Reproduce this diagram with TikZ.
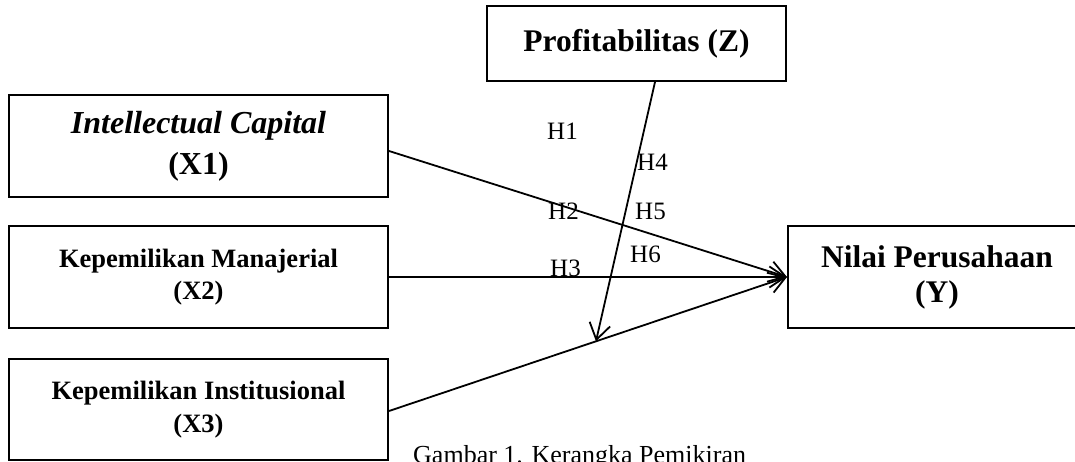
\documentclass[tikz,border=0pt]{standalone}
\usepackage{fontspec}
\setmainfont{Liberation Serif}
\usetikzlibrary{arrows.meta,calc}
\begin{document}
\begin{tikzpicture}[x=1pt,y=-1pt,
  box/.style={draw, line width=2pt, inner sep=0pt, align=center, font=\bfseries},
  link/.style={line width=1.8pt, -{Straight Barb[length=16pt,width=21pt]}},
  hlab/.style={font=\fontsize{25}{25}\selectfont, anchor=base west, inner sep=0pt}]
\useasboundingbox (0,0) rectangle (1075,462);
\node[box, minimum width=379pt, minimum height=102pt, font=\fontsize{32}{41}\selectfont\bfseries] (x1) at (198.5,146) {\textit{Intellectual Capital}\\(X1)};
\node[box, minimum width=379pt, minimum height=102pt, font=\fontsize{26.5}{32.5}\selectfont\bfseries] (x2) at (198.5,277) {Kepemilikan Manajerial\\(X2)};
\node[box, minimum width=379pt, minimum height=101pt, font=\fontsize{26.5}{32.5}\selectfont\bfseries] (x3) at (198.5,409.5) {Kepemilikan Institusional\\(X3)};
\node[box, minimum width=299pt, minimum height=75pt, font=\fontsize{31.5}{36}\selectfont\bfseries] (z) at (636.5,43.5) {Profitabilitas (Z)};
\node[box, minimum width=298pt, minimum height=102pt, font=\fontsize{31.5}{35}\selectfont\bfseries] (y) at (937,277) {Nilai Perusahaan\\(Y)};
\draw[link] ([yshift=-5pt]x1.east) -- (y.west);
\draw[link] (x2.east) -- (y.west);
\draw[link] ([yshift=-1.5pt]x3.east) -- (y.west);
\coordinate (m) at ($([yshift=-1.5pt]x3.east)!0.52!(y.west)$);
\draw[link] ([xshift=18.5pt]z.south) -- (m);
\node[hlab] (h1) at (547,140) {H1};
\node[hlab] (h4) at (637,171) {H4};
\node[hlab] (h2) at (548,220) {H2};
\node[hlab] (h5) at (635,220) {H5};
\node[hlab] (h6) at (630,262) {H6};
\node[hlab] (h3) at (550,276) {H3};
\node[anchor=base west, inner sep=0pt, font=\fontsize{26}{26}\selectfont] (cap) at (413,463) {Gambar 1. Kerangka Pemikiran};
\end{tikzpicture}
\end{document}
